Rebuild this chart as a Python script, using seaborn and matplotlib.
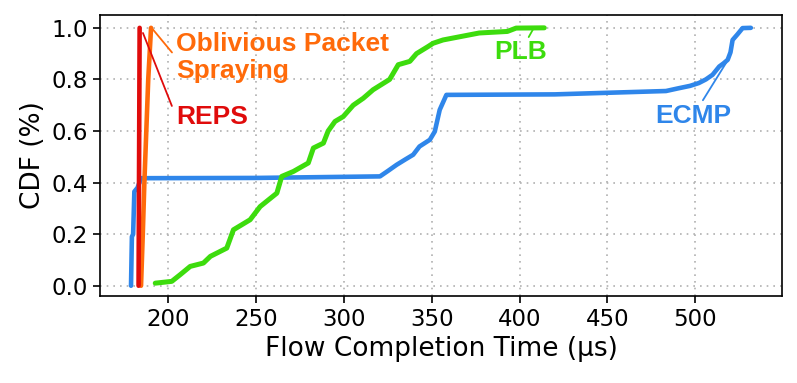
"""
FCT CDF comparison: ECMP / PLB / Oblivious Packet Spraying / REPS
"""
import numpy as np
import pandas as pd
import matplotlib
matplotlib.use('Agg')
import matplotlib.pyplot as plt
import seaborn as sns

# ============================================================================
# DATA
# ============================================================================
ecmp_x = [178.8, 179.3, 180.0, 180.7, 182.5, 184.5, 250, 320.5, 325, 330, 335,
          339.4, 343, 348.9, 351.7, 354.5, 358.3, 420, 483.3, 490, 497, 502,
          506, 509.8, 513.6, 516, 518.4, 520, 521.2, 524, 526.9, 531.6]
ecmp_y = [0.0, 0.19, 0.2, 0.365, 0.38, 0.417, 0.418, 0.424, 0.445, 0.469, 0.49,
          0.508, 0.54, 0.566, 0.598, 0.682, 0.74, 0.742, 0.755, 0.765, 0.775,
          0.786, 0.80, 0.818, 0.85, 0.862, 0.876, 0.905, 0.953, 0.975, 0.999, 1.0]

plb_x = [192.6, 202, 206.8, 212.5, 220, 224, 233.3, 237.1, 246.6, 252.3, 261.8,
         264.6, 271.2, 279.7, 282.6, 288.3, 291, 294.9, 299.6, 305.3, 311,
         316.6, 326, 330.9, 337.5, 341.3, 348, 350.7, 356.4, 377, 393, 398, 414]
plb_y = [0.01, 0.017, 0.043, 0.075, 0.088, 0.114, 0.146, 0.217, 0.256, 0.307,
         0.359, 0.424, 0.443, 0.476, 0.534, 0.553, 0.600, 0.637, 0.656, 0.70,
         0.727, 0.76, 0.80, 0.857, 0.87, 0.90, 0.928, 0.94, 0.953, 0.98, 0.986,
         0.999, 1.0]

ops_x = [184.5, 185.5, 186.4, 187.5, 188.6, 190.2]
ops_y = [0.0, 0.2, 0.4, 0.6, 0.8, 1.0]

reps_x = [183.1, 183.7]
reps_y = [0.0, 1.0]

names = ['ECMP', 'PLB', 'Oblivious Packet\nSpraying', 'REPS']
colors = ['#2f86ea', '#3ddc0d', '#ff6a0a', '#e00b0b']
widths = [3.3, 3.6, 3.3, 3.3]

# ============================================================================
# PLOT
# ============================================================================
sns.set_theme(style='ticks', font='DejaVu Sans')
plt.rcParams['axes.edgecolor'] = 'black'
plt.rcParams['axes.linewidth'] = 1.2
plt.rcParams['text.color'] = 'black'
plt.rcParams['axes.labelcolor'] = 'black'

fig = plt.figure(figsize=(7.97, 3.83), dpi=100)
ax = fig.add_axes([0.1255, 0.227, 0.8555, 0.734])

series = [(ecmp_x, ecmp_y), (plb_x, plb_y), (ops_x, ops_y), (reps_x, reps_y)]
for (xs, ys), name, c, w in zip(series, names, colors, widths):
    df = pd.DataFrame({'fct': xs, 'cdf': ys})
    sns.lineplot(data=df, x='fct', y='cdf', color=c, linewidth=w,
                 estimator=None, sort=False, ax=ax)

ax.set_ylim(-0.04, 1.05)
ax.set_yticks(np.arange(0, 1.01, 0.2))
ax.set_xticks(np.arange(200, 501, 50))
ax.grid(True, linestyle=(0, (1, 3)), color='#b0b0b0', linewidth=1.2)
ax.tick_params(labelsize=16.5, length=5, width=1.2, colors='black')
ax.set_xlabel('Flow Completion Time (μs)', fontsize=19, color='black')
ax.set_ylabel('CDF (%)', fontsize=19, color='black')

# annotations
ann = dict(fontsize=19, fontweight='bold', family='Liberation Sans')
ax.annotate(names[2], xy=(190.5, 1.0), xytext=(204.5, 0.885), color=colors[2],
            ha='left', va='center', linespacing=1.15,
            arrowprops=dict(arrowstyle='-', color=colors[2], lw=1.3,
                            relpos=(0, 0.5), shrinkA=1, shrinkB=0), **ann)
ax.annotate(names[3], xy=(185.6, 0.98), xytext=(204.5, 0.655), color=colors[3],
            ha='left', va='center',
            arrowprops=dict(arrowstyle='-', color=colors[3], lw=1.3,
                            relpos=(0, 0.5), shrinkA=2, shrinkB=0), **ann)
ax.annotate(names[1], xy=(408, 0.999), xytext=(400.3, 0.905), color=colors[1],
            ha='center', va='center',
            arrowprops=dict(arrowstyle='-', color=colors[1], lw=1.3,
                            shrinkA=0, shrinkB=0), **ann)
ax.annotate(names[0], xy=(517.4, 0.863), xytext=(498.9, 0.66), color=colors[0],
            ha='center', va='center',
            arrowprops=dict(arrowstyle='-', color=colors[0], lw=1.3,
                            shrinkA=0, shrinkB=0), **ann)

plt.savefig('out.png', dpi=100)
plt.close()
print('saved out.png')
